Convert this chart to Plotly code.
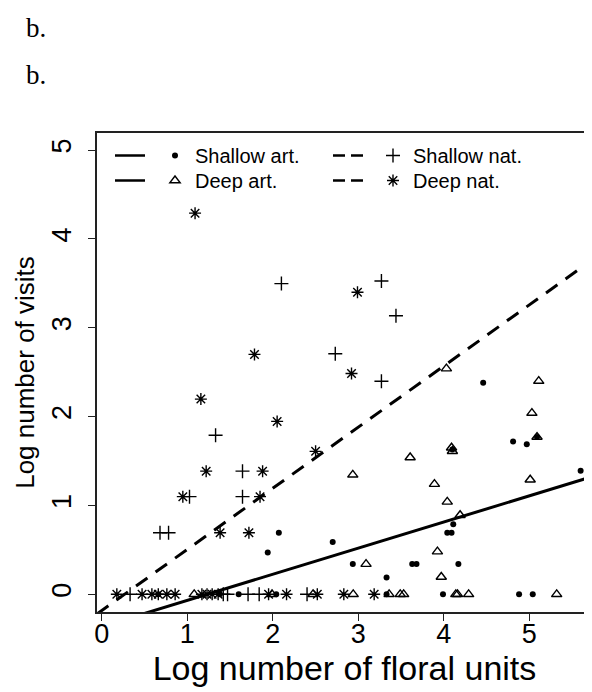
import plotly.graph_objects as go

# ---------------- data ----------------
shallow_art_x = [4.46, 4.81, 4.97, 5.09, 4.10, 5.60, 4.11, 4.04, 4.09, 2.07, 2.70, 1.94,
                 2.935, 3.63, 3.68, 4.17, 3.33,
                 0.66, 1.38, 1.60, 2.04, 3.33, 3.99, 4.88, 5.04]
shallow_art_y = [2.38, 1.72, 1.69, 1.77, 1.63, 1.39, 0.79, 0.693, 0.693, 0.693, 0.588, 0.47,
                 0.34, 0.34, 0.34, 0.34, 0.19,
                 0, 0, 0, 0, 0, 0, 0, 0]

deep_art_x = [4.03, 5.11, 5.03, 5.09, 4.09, 4.10, 3.606, 2.935, 5.01, 3.89, 4.04, 4.19,
              3.925, 3.09, 3.97,
              1.08, 1.99, 2.47, 2.94, 3.36, 3.49, 3.53, 4.14, 4.16, 4.29, 5.32]
deep_art_y = [2.54, 2.40, 2.04, 1.77, 1.65, 1.61, 1.54, 1.345, 1.29, 1.24, 1.04, 0.89,
              0.48, 0.34, 0.195,
              0, 0, 0, 0, 0, 0, 0, 0, 0, 0, 0]

shallow_nat_x = [2.10, 2.73, 3.27, 3.44, 3.27, 1.33, 1.645, 1.025, 1.645, 0.68, 0.78,
                 0.33, 1.42, 1.47, 1.71, 1.84, 2.40]
shallow_nat_y = [3.497, 2.708, 3.526, 3.135, 2.398, 1.79, 1.386, 1.099, 1.099, 0.693, 0.693,
                 0, 0, 0, 0, 0, 0]

deep_nat_x = [1.09, 1.785, 2.99, 2.92, 1.158, 2.05, 2.50, 1.22, 1.88, 0.947, 1.85, 1.383, 1.72,
              0.175, 0.47, 0.585, 0.66, 0.76, 0.857, 1.17, 1.23, 1.29, 1.36, 1.95, 2.16,
              2.52, 2.83, 3.185]
deep_nat_y = [4.29, 2.70, 3.40, 2.485, 2.197, 1.946, 1.609, 1.386, 1.386, 1.099, 1.099, 0.693, 0.693,
              0, 0, 0, 0, 0, 0, 0, 0, 0, 0, 0, 0,
              0, 0, 0]

# fitted lines (intercept, slope)
art_fit = (-0.362, 0.294)
nat_fit = (-0.182, 0.688)

x_ticks = [0, 1, 2, 3, 4, 5]
y_ticks = [0, 1, 2, 3, 4, 5]
x_range = [-0.057, 5.733]
y_range = [-0.199, 5.192]

legend_labels = ["Shallow art.", "Deep art.", "Shallow nat.", "Deep nat."]

# ---------------- figure ----------------
fig = go.Figure()
BLACK = "#000000"

def fit_line(fit):
    xs = [x_range[0], x_range[1]]
    return xs, [fit[0] + fit[1] * v for v in xs]

ax, ay = fit_line(art_fit)
nx, ny = fit_line(nat_fit)
fig.add_trace(go.Scatter(x=ax, y=ay, mode="lines", showlegend=False,
                         line=dict(color=BLACK, width=3), hoverinfo="skip"))
fig.add_trace(go.Scatter(x=nx, y=ny, mode="lines", showlegend=False,
                         line=dict(color=BLACK, width=3, dash="14px,10px"), hoverinfo="skip"))

sym = {
    "Shallow art.": dict(symbol="circle", size=6, color=BLACK, line=dict(width=0)),
    "Deep art.": dict(symbol="triangle-up-open", size=9, color=BLACK, line=dict(width=1.4, color=BLACK)),
    "Shallow nat.": dict(symbol="cross-thin-open", size=10, color=BLACK, line=dict(width=1.4, color=BLACK)),
    "Deep nat.": dict(symbol="asterisk-open", size=10, color=BLACK, line=dict(width=1.4, color=BLACK)),
}
data = {
    "Shallow art.": (shallow_art_x, shallow_art_y),
    "Deep art.": (deep_art_x, deep_art_y),
    "Shallow nat.": (shallow_nat_x, shallow_nat_y),
    "Deep nat.": (deep_nat_x, deep_nat_y),
}
for name in ["Deep art.", "Shallow art.", "Shallow nat.", "Deep nat."]:
    xs, ys = data[name]
    fig.add_trace(go.Scatter(x=xs, y=ys, mode="markers", name=name, showlegend=False,
                             marker=sym[name]))

# legend: one small legend per cell, each made of a line key and a marker key
legend_ids = ["legend", "legend2", "legend3", "legend4"]
for lid, name in zip(legend_ids, legend_labels):
    dash = "solid" if "art" in name else "12px,6px"
    fig.add_trace(go.Scatter(x=[None], y=[None], mode="lines", name="", legend=lid,
                             line=dict(color=BLACK, width=2.5, dash=dash), showlegend=True,
                             hoverinfo="skip"))
    fig.add_trace(go.Scatter(x=[None], y=[None], mode="markers", name=name, legend=lid,
                             marker=sym[name], showlegend=True))

# the page body adds an 8px offset; figure coordinates below are page - 8
W, H = 584, 684
L, R, T, B = 89, 0, 125, 80
pw, ph = W - L - R, H - T - B

def px_x(p):
    return (p - L) / pw

def px_y(p):
    return (H - B - p) / ph

def legend_box(x, y):
    return dict(orientation="h", x=px_x(x), y=px_y(y), xanchor="left", yanchor="top",
                font=dict(size=20, family="Liberation Sans, Arial, sans-serif", color=BLACK),
                bgcolor="rgba(0,0,0,0)", itemwidth=30)

col_x = [102, 320]
row_y = [128, 153]

fig.update_layout(
    width=W, height=H,
    margin=dict(l=L, r=R, t=T, b=B, autoexpand=False),
    paper_bgcolor="white", plot_bgcolor="white",
    font=dict(family="Liberation Sans, Arial, sans-serif", color=BLACK),
    showlegend=True,
    legend=legend_box(col_x[0], row_y[0]),
    legend2=legend_box(col_x[0], row_y[1]),
    legend3=legend_box(col_x[1], row_y[0]),
    legend4=legend_box(col_x[1], row_y[1]),
    xaxis=dict(range=x_range, tickvals=x_ticks, ticktext=[str(v) for v in x_ticks],
               showgrid=False, zeroline=False, showline=True, linecolor="#222222", linewidth=1.5,
               mirror=True, ticks="outside", ticklen=7, tickwidth=1.2, tickcolor="#222222",
               tickfont=dict(size=27), ticklabelstandoff=-10,
               title=dict(text="Log number of floral units", font=dict(size=34), standoff=3)),
    yaxis=dict(range=y_range, tickvals=y_ticks, ticktext=[str(v) for v in y_ticks],
               showgrid=False, zeroline=False, showline=True, linecolor="#222222", linewidth=1.5,
               mirror=False, ticks="outside", ticklen=7, tickwidth=1.2, tickcolor="#222222",
               tickangle=-90, tickfont=dict(size=27), ticklabelstandoff=6,
               title=dict(text="Log number of visits", font=dict(size=26), standoff=5)),
    annotations=[
        dict(text="b.", xref="paper", yref="paper", x=px_x(16), y=px_y(20), xanchor="left",
             yanchor="middle", showarrow=False,
             font=dict(family="Liberation Serif, Times New Roman, serif", size=27, color=BLACK)),
        dict(text="b.", xref="paper", yref="paper", x=px_x(16), y=px_y(67), xanchor="left",
             yanchor="middle", showarrow=False,
             font=dict(family="Liberation Serif, Times New Roman, serif", size=27, color=BLACK)),
    ],
)

fig.write_html("out.html")
